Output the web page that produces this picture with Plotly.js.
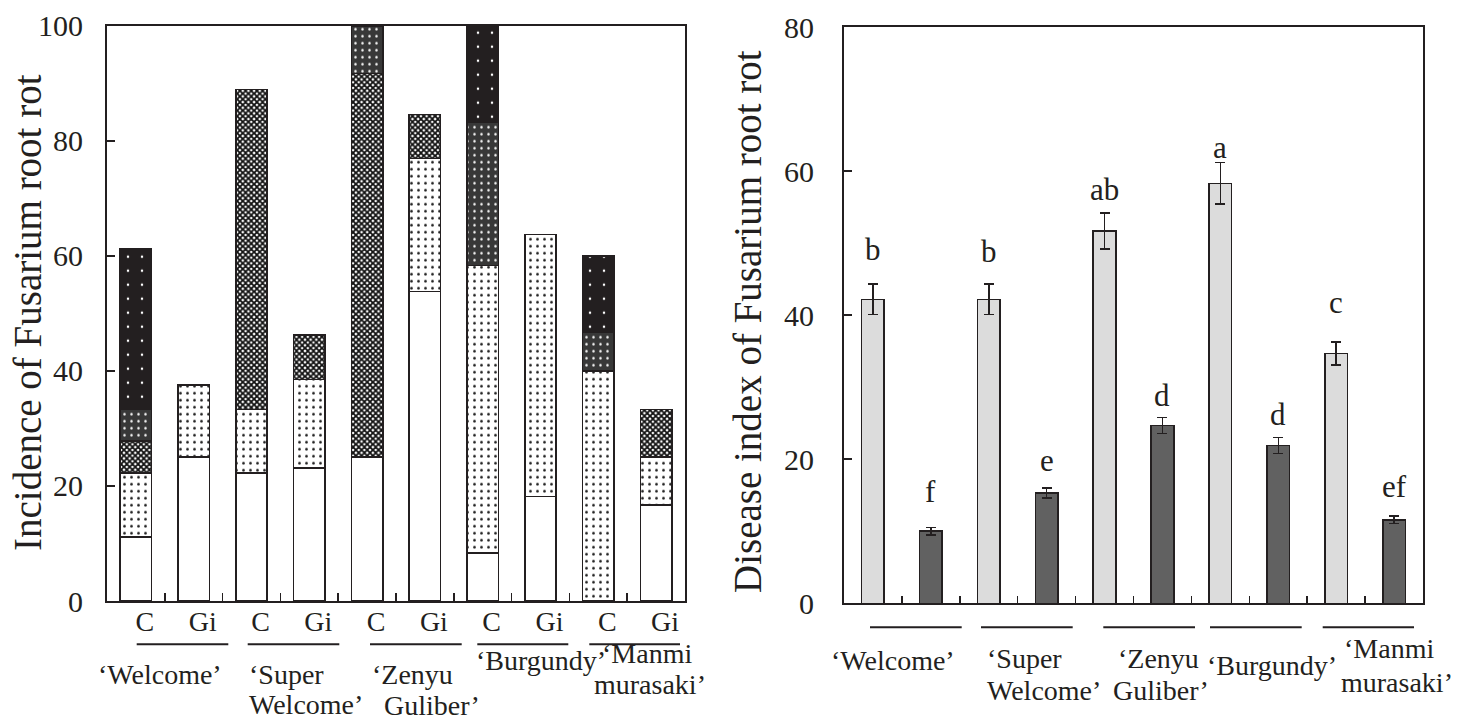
<!DOCTYPE html>
<html><head><meta charset="utf-8">
<script src="https://cdn.plot.ly/plotly-3.0.1.min.js"></script>
<style>html,body{margin:0;padding:0;background:#fff}</style>
</head><body><div id="chart" style="width:1461px;height:720px"></div>
<script>
// ---------- data ----------
const varietyLines = [["‘Welcome’"], ["‘Super", "Welcome’"], ["‘Zenyu", "Guliber’"], ["‘Burgundy’"], ["‘Manmi", "murasaki’"]];
const treatments = ["C", "Gi"];
// Incidence (%) by severity class, order: Welcome C, Gi, Super Welcome C, Gi, Zenyu C, Gi, Burgundy C, Gi, Manmi C, Gi
const sevClass0 = [11.1, 25.0, 22.2, 23.1, 25.0, 53.8, 8.3, 18.2, 0, 16.7];
const sevClass1 = [11.1, 12.5, 11.1, 15.4, 0, 23.1, 50.0, 45.5, 40.0, 8.3];
const sevClass2 = [5.6, 0, 55.6, 7.7, 66.7, 7.7, 0, 0, 0, 8.3];
const sevClass3 = [5.6, 0, 0, 0, 8.3, 0, 25.0, 0, 6.7, 0];
const sevClass4 = [27.8, 0, 0, 0, 0, 0, 16.7, 0, 13.3, 0];
// Disease index
const indexC = [42.2, 42.2, 51.7, 58.3, 34.7];
const indexGi = [10.0, 15.3, 24.7, 21.9, 11.6];
const errC = [2.1, 2.1, 2.5, 2.9, 1.6];
const errGi = [0.5, 0.7, 1.1, 1.1, 0.5];
const lettersC = ["b", "b", "ab", "a", "c"];
const lettersGi = ["f", "e", "d", "d", "ef"];

// ---------- derived ----------
const varieties = varietyLines.map(l => l.join(" "));
const categories = varieties.flatMap(v => treatments.map(t => v + " " + t));
const catsC = varieties.map(v => v + " C");
const catsGi = varieties.map(v => v + " Gi");
const tickText = varieties.flatMap(() => treatments);

// ---------- styles ----------
const INK = "#231f20";
const FONT = "Liberation Serif";
const W = 1461, H = 720;
const px = x => x / W, py = y => 1 - y / H;
const outline = {color: INK, width: 1.6};

const sevStyles = [
  {bgcolor: "#ffffff", fgcolor: "#ffffff", shape: "", size: 8, solidity: 0.1},
  {bgcolor: "#ffffff", fgcolor: "#111111", shape: ".", size: 7, solidity: 0.12},
  {bgcolor: "#ffffff", fgcolor: "#111111", shape: "x", size: 4, solidity: 0.7},
  {bgcolor: "#383838", fgcolor: "#ffffff", shape: ".", size: 7, solidity: 0.1},
  {bgcolor: "#231f20", fgcolor: "#ffffff", shape: ".", size: 14, solidity: 0.025}
];
const sevData = [sevClass0, sevClass1, sevClass2, sevClass3, sevClass4];

const traces = sevData.map((vals, i) => ({
  type: "bar", x: categories, y: vals, xaxis: "x", yaxis: "y",
  width: 0.54, showlegend: false, hoverinfo: "y",
  marker: {color: "#ffffff", line: outline,
    pattern: Object.assign({fillmode: "replace"}, sevStyles[i])}
}));

traces.push({
  type: "bar", x: catsC, y: indexC, xaxis: "x2", yaxis: "y2", width: 0.39, showlegend: false,
  marker: {color: "#dcdcdc", line: outline},
  error_y: {type: "data", array: errC, visible: true, color: INK, thickness: 1.5, width: 5}
});
traces.push({
  type: "bar", x: catsGi, y: indexGi, xaxis: "x2", yaxis: "y2", width: 0.39, showlegend: false,
  marker: {color: "#616161", line: outline},
  error_y: {type: "data", array: errGi, visible: true, color: INK, thickness: 1.5, width: 5}
});

// ---------- annotations & shapes ----------
const annotations = [];
const shapes = [];
const tickFont = {family: FONT, size: 30, color: INK};
const labFont = {family: FONT, size: 28, color: INK};

annotations.push({xref: "paper", yref: "paper", x: px(27), y: py(313), text: "Incidence of Fusarium root rot",
  textangle: -90, showarrow: false, xanchor: "center", yanchor: "middle", font: {family: FONT, size: 39, color: INK}});
annotations.push({xref: "paper", yref: "paper", x: px(747), y: py(322), text: "Disease index of Fusarium root rot",
  textangle: -90, showarrow: false, xanchor: "center", yanchor: "middle", font: {family: FONT, size: 39, color: INK}});

const leftLabelPos = [[[97, 674]], [[247.7, 674.5], [247.7, 704]], [[370.7, 674.5], [383, 705]], [[475, 660]], [[601, 653], [593, 684]]];
const rightLabelPos = [[[830, 660]], [[985.7, 658], [985.7, 690]], [[1116.7, 658], [1112, 690]], [[1206, 665]], [[1343, 648], [1340, 682]]];
const leftLines = [[136.7, 228.3], [247.7, 339.3], [370, 461.7], [477.3, 568.3], [589.3, 680]];
const rightLines = [[870, 961.7], [981, 1072.7], [1103.3, 1195], [1210, 1301.7], [1322.7, 1414]];

[[leftLabelPos, leftLines, 644.3], [rightLabelPos, rightLines, 627.3]].forEach(([pos, lines, ly]) => {
  varietyLines.forEach((ls, vi) => {
    ls.forEach((t, li) => {
      annotations.push({xref: "paper", yref: "paper", x: px(pos[vi][li][0]), y: py(pos[vi][li][1]), text: t,
        showarrow: false, xanchor: "left", yanchor: "middle", font: labFont, borderpad: 0});
    });
    shapes.push({type: "line", xref: "paper", yref: "paper", x0: px(lines[vi][0]), x1: px(lines[vi][1]),
      y0: py(ly), y1: py(ly), line: {color: INK, width: 2}});
  });
});

// significance letters (pixel offsets above the error bar, as placed in the figure)
const letterShiftC = [15, 13, 4, -5, 20];
const letterShiftGi = [17, 8, 2, 4, 10];
[[catsC, indexC, errC, lettersC, letterShiftC], [catsGi, indexGi, errGi, lettersGi, letterShiftGi]].forEach(([cats, vals, errs, lets, sh]) => {
  cats.forEach((c, i) => {
    annotations.push({xref: "x2", yref: "y2", x: c, y: vals[i] + errs[i], text: lets[i], showarrow: false,
      xanchor: "center", yanchor: "bottom", yshift: sh[i], font: {family: FONT, size: 31, color: INK}});
  });
});

const axisCommon = {showline: true, mirror: true, linecolor: INK, linewidth: 2, showgrid: false, zeroline: false,
  ticks: "inside", tickcolor: INK, tickwidth: 1.5, fixedrange: true};

const layout = {
  width: W, height: H, margin: {l: 0, r: 0, t: 0, b: 0}, paper_bgcolor: "#fff", plot_bgcolor: "#fff",
  barmode: "stack", showlegend: false, font: {family: FONT, color: INK},
  xaxis: Object.assign({}, axisCommon, {domain: [px(107), px(685)], anchor: "y", type: "category",
    categoryorder: "array", categoryarray: categories, range: [-0.5, 9.5], tickson: "boundaries",
    tickmode: "array", tickvals: categories, ticktext: tickText, ticklen: 8, tickfont: labFont,
    ticklabelshift: 9, ticklabelstandoff: -6}),
  yaxis: Object.assign({}, axisCommon, {domain: [py(601), py(25.7)], anchor: "x", range: [0, 100], dtick: 20,
    ticklen: 8, tickfont: tickFont, ticklabelstandoff: 16}),
  xaxis2: Object.assign({}, axisCommon, {domain: [px(844), px(1423)], anchor: "y2", type: "category",
    categoryorder: "array", categoryarray: categories, range: [-0.5, 9.5], tickson: "boundaries",
    tickmode: "array", tickvals: categories, ticktext: tickText, ticklen: 7, showticklabels: false}),
  yaxis2: Object.assign({}, axisCommon, {domain: [py(603.3), py(27)], anchor: "x2", range: [0, 80], dtick: 20,
    ticklen: 8, tickfont: tickFont, ticklabelstandoff: 22}),
  annotations: annotations, shapes: shapes
};

Plotly.newPlot("chart", traces, layout, {staticPlot: true, displayModeBar: false});
</script></body></html>
